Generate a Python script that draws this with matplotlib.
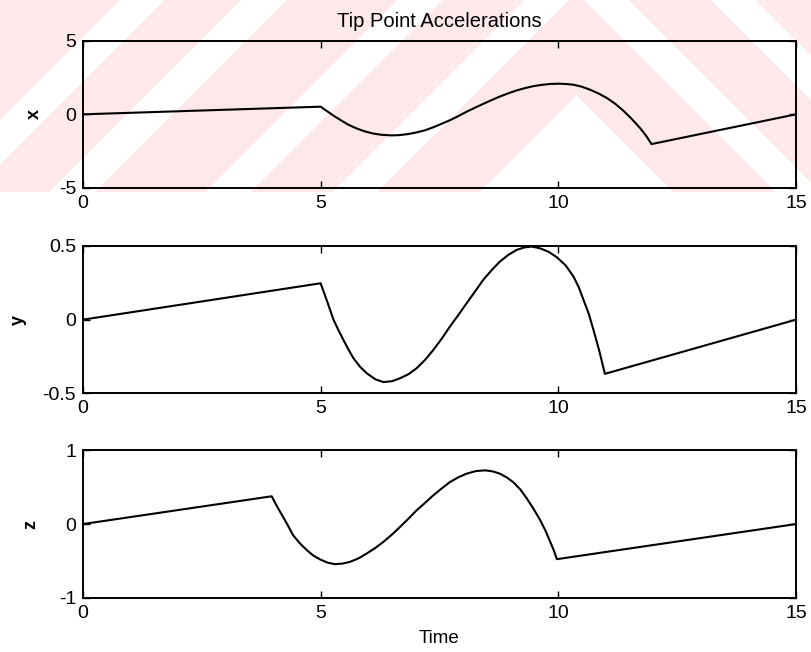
import numpy as np
import matplotlib.pyplot as plt

plt.rcParams['font.family'] = ['Liberation Sans', 'DejaVu Sans']
plt.rcParams['axes.unicode_minus'] = False

# time stamps and tip accelerations for each axis
t_x = [0, 5, 5.15, 5.29, 5.44, 5.58, 5.75, 5.93, 6.1, 6.28, 6.49, 6.66, 6.84, 7.0, 7.19,
       7.36, 7.54, 7.72, 7.89, 8.06, 8.24, 8.42, 8.6, 8.77, 8.95, 9.12, 9.3, 9.47, 9.65,
       9.82, 10.0, 10.16, 10.32, 10.5, 10.67, 10.85, 11.02, 11.2, 11.37, 11.55, 11.72,
       11.85, 11.96, 15]
acc_x = [0, 0.52, 0.18, -0.13, -0.43, -0.70, -0.95, -1.16, -1.30, -1.39, -1.43, -1.41, -1.34,
         -1.24, -1.09, -0.89, -0.65, -0.40, -0.13, 0.16, 0.44, 0.71, 0.97, 1.21, 1.43, 1.62,
         1.78, 1.91, 2.0, 2.06, 2.08, 2.06, 2.01, 1.87, 1.67, 1.41, 1.11, 0.71, 0.24, -0.33,
         -0.93, -1.47, -2.02, 0]

t_y = [0, 5, 5.13, 5.27, 5.38, 5.48, 5.58, 5.69, 5.83, 5.97, 6.15, 6.32, 6.5, 6.67, 6.85,
       7.02, 7.2, 7.37, 7.55, 7.72, 7.9, 8.07, 8.25, 8.42, 8.6, 8.77, 8.95, 9.12, 9.28,
       9.44, 9.61, 9.8, 9.97, 10.15, 10.32, 10.43, 10.53, 10.64, 10.74, 10.86, 10.98, 15]
acc_y = [0, 0.247, 0.13, 0.0, -0.075, -0.138, -0.2, -0.262, -0.32, -0.364, -0.405, -0.424,
         -0.418, -0.398, -0.37, -0.33, -0.272, -0.206, -0.128, -0.047, 0.033, 0.111, 0.192,
         0.27, 0.337, 0.394, 0.44, 0.473, 0.49, 0.496, 0.485, 0.46, 0.423, 0.37, 0.292,
         0.22, 0.134, 0.04, -0.07, -0.21, -0.368, 0]

t_z = [0, 3.97, 4.09, 4.21, 4.32, 4.42, 4.56, 4.71, 4.85, 4.99, 5.15, 5.30, 5.46, 5.62,
       5.8, 5.97, 6.15, 6.32, 6.5, 6.67, 6.85, 7.02, 7.2, 7.37, 7.55, 7.72, 7.9, 8.07,
       8.27, 8.46, 8.62, 8.77, 8.91, 9.05, 9.2, 9.34, 9.48, 9.62, 9.73, 9.83, 9.9, 9.97, 15]
acc_z = [0, 0.377, 0.23, 0.096, -0.03, -0.152, -0.26, -0.355, -0.43, -0.481, -0.525, -0.545,
         -0.537, -0.513, -0.465, -0.40, -0.325, -0.242, -0.143, -0.039, 0.075, 0.187, 0.29,
         0.39, 0.485, 0.57, 0.636, 0.684, 0.72, 0.729, 0.715, 0.684, 0.635, 0.57, 0.47,
         0.345, 0.205, 0.051, -0.09, -0.242, -0.35, -0.477, 0]

panels = [
    ('x', t_x, acc_x, (-5, 5), [-5, 0, 5], -0.0687),
    ('y', t_y, acc_y, (-0.5, 0.5), [-0.5, 0, 0.5], -0.091),
    ('z', t_z, acc_z, (-1, 1), [-1, 0, 1], -0.073),
]
bottoms = [0.7117, 0.3968, 0.0833]

W, H = 811, 652
fig = plt.figure(figsize=(W / 100, H / 100), dpi=100)

# faint pink chevron stripes across the top of the page, behind the plots
h = 192
yy, xx = np.mgrid[0:h, 0:W]
s = yy - np.abs(xx - 576)
white = (((s > -458) & (s < -412)) | ((s > -336) & (s < -290)) |
         ((s > -180) & (s < -134)) | ((s > -53) & (s < -7)) | (s > 94))
band = np.ones((h, W, 3))
band[~white] = np.array([253, 232, 236]) / 255.0

bg = fig.add_axes([0, 0, 1, 1], zorder=-1)
bg.imshow(band, extent=(0, W, h, 0), interpolation='bilinear')
bg.set_xlim(0, W)
bg.set_ylim(H, 0)
bg.axis('off')

for i, (name, t, acc, ylim, yticks, lab_x) in enumerate(panels):
    ax = fig.add_axes([0.1023, bottoms[i], 0.8792, 0.2259])
    ax.set_facecolor('none')
    ax.plot(t, acc, color='black', lw=1.5)
    ax.set_xlim(0, 15)
    ax.set_ylim(*ylim)
    ax.set_xticks([0, 5, 10, 15])
    ax.set_yticks(yticks)
    ax.set_yticklabels([('%g' % v) for v in yticks])
    ax.tick_params(direction='in', top=True, right=True, length=5, width=1,
                   labelsize=14, pad=5)
    for sp in ax.spines.values():
        sp.set_linewidth(1.4)
    ax.set_ylabel(name, fontsize=13, fontweight='bold')
    ax.yaxis.label.set_va('center')
    ax.yaxis.set_label_coords(lab_x, 0.5)
    if i == 0:
        ax.set_title('Tip Point Accelerations', fontsize=14.5, pad=10)
    if i == 2:
        ax.set_xlabel('Time', fontsize=13.5)
        ax.xaxis.label.set_va('top')
        ax.xaxis.set_label_coords(0.5, -0.219)

fig.savefig('out.png', dpi=100)
